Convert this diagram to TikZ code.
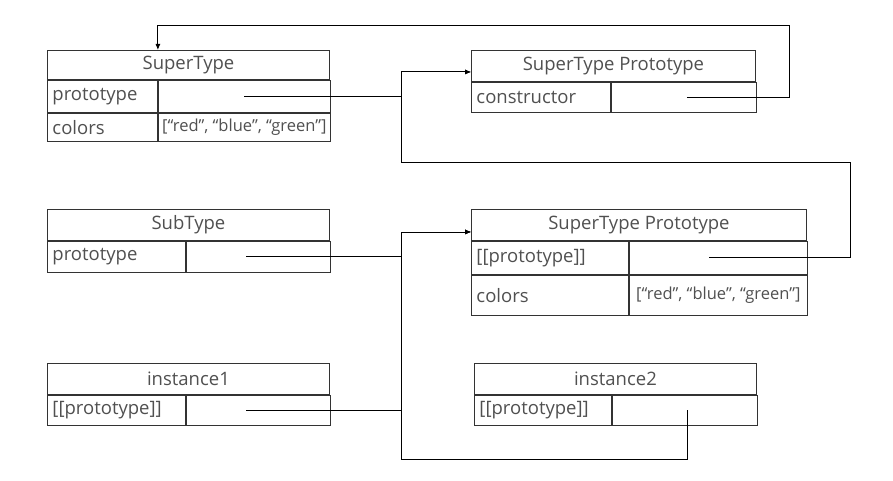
\documentclass[tikz,border=0pt]{standalone}
\usepackage{fontspec}
\setmainfont{Open Sans}
\usetikzlibrary{positioning,arrows.meta}
\definecolor{textgray}{HTML}{505050}
\definecolor{linegray}{HTML}{333333}
\newcommand{\boxfont}{\fontsize{18.5}{21}\selectfont}
\newcommand{\valfont}{\fontsize{16.5}{19}\selectfont}
\tikzset{
  box/.style={draw=linegray, line width=0.9pt, inner xsep=5pt, inner ysep=0pt,
    anchor=north west, font=\boxfont, text=textgray},
  lab/.style={box, align=left},
  val/.style={box, inner xsep=1pt, font=\valfont},
  conn/.style={draw=black, line width=0.9pt},
  to/.style={conn, -{Latex[length=6pt,width=5pt]}},
}
\begin{document}
\begin{tikzpicture}[x=1pt, y=-1pt]
  \useasboundingbox (0,0) rectangle (893,481);

  % SuperType
  \node[box, minimum width=282pt, minimum height=29pt] (st) at (47,50) {SuperType};
  \node[lab, text width=100pt, minimum height=32pt] (stp) at (st.south west) {prototype};
  \node[box, minimum width=172pt, minimum height=32pt] (stpv) at (stp.north east) {};
  \node[lab, text width=100pt, minimum height=28pt] (stc) at (stp.south west) {colors};
  \node[val, minimum width=172pt, minimum height=28pt] (stcv) at (stc.north east) {[“red”, “blue”, “green”]};

  % SuperType Prototype (top)
  \node[box, minimum width=284pt, minimum height=31pt] (sp) at (471,50) {SuperType Prototype};
  \node[lab, text width=129pt, minimum height=30pt] (spc) at (sp.south west) {constructor};
  \node[box, minimum width=145pt, minimum height=30pt] (spcv) at (spc.north east) {};

  % SubType
  \node[box, minimum width=282pt, minimum height=31pt] (sb) at (47,209) {SubType};
  \node[lab, text width=128pt, minimum height=31pt] (sbp) at (sb.south west) {prototype};
  \node[box, minimum width=144pt, minimum height=31pt] (sbpv) at (sbp.north east) {};

  % SuperType Prototype (lower)
  \node[box, minimum width=335pt, minimum height=31pt] (pp) at (471,209) {SuperType Prototype};
  \node[lab, text width=147pt, minimum height=33pt] (ppp) at (pp.south west) {[[prototype]]};
  \node[box, minimum width=178pt, minimum height=33pt] (pppv) at (ppp.north east) {};
  \node[lab, text width=147pt, minimum height=40pt] (ppc) at (ppp.south west) {colors};
  \node[val, minimum width=178pt, minimum height=40pt] (ppcv) at (ppc.north east) {[“red”, “blue”, “green”]};

  % instance1
  \node[box, minimum width=282pt, minimum height=31pt] (ia) at (47,363) {instance1};
  \node[lab, text width=128pt, minimum height=30pt] (iap) at (ia.south west) {[[prototype]]};
  \node[box, minimum width=144pt, minimum height=30pt] (iapv) at (iap.north east) {};

  % instance2
  \node[box, minimum width=282pt, minimum height=31pt] (ib) at (474,363) {instance2};
  \node[lab, text width=127pt, minimum height=30pt] (ibp) at (ib.south west) {[[prototype]]};
  \node[box, minimum width=145pt, minimum height=30pt] (ibpv) at (ibp.north east) {};

  % connector helpers
  \coordinate (bus) at (401,0);
  \coordinate (rtop) at (789,25);
  \coordinate (rmid) at (850,162);
  \coordinate (bot) at (0,459);
  \coordinate (spin) at ([yshift=-6pt]sp.west);
  \coordinate (ppin) at ([yshift=-7pt]pp.west);

  % connectors
  \draw[to] (stpv.center) -- (stpv.center -| bus) |- (spin);
  \draw[to] ([xshift=3pt]spcv.center) -| (rtop) -| (st.north -| stpv.west);
  \draw[to] ([xshift=-9pt]pppv.center) -| (rmid) -| (spin -| bus) -- (spin);
  \draw[to] ([xshift=-12pt]sbpv.center) -- (sbpv.center -| bus) |- (ppin);
  \draw[to] ([xshift=-12pt]iapv.center) -| (ppin -| bus) -- (ppin);
  \draw[to] ([xshift=3pt]ibpv.center) -- ([xshift=3pt]ibpv.center |- bot) -| (ppin -| bus) -- (ppin);
\end{tikzpicture}
\end{document}
